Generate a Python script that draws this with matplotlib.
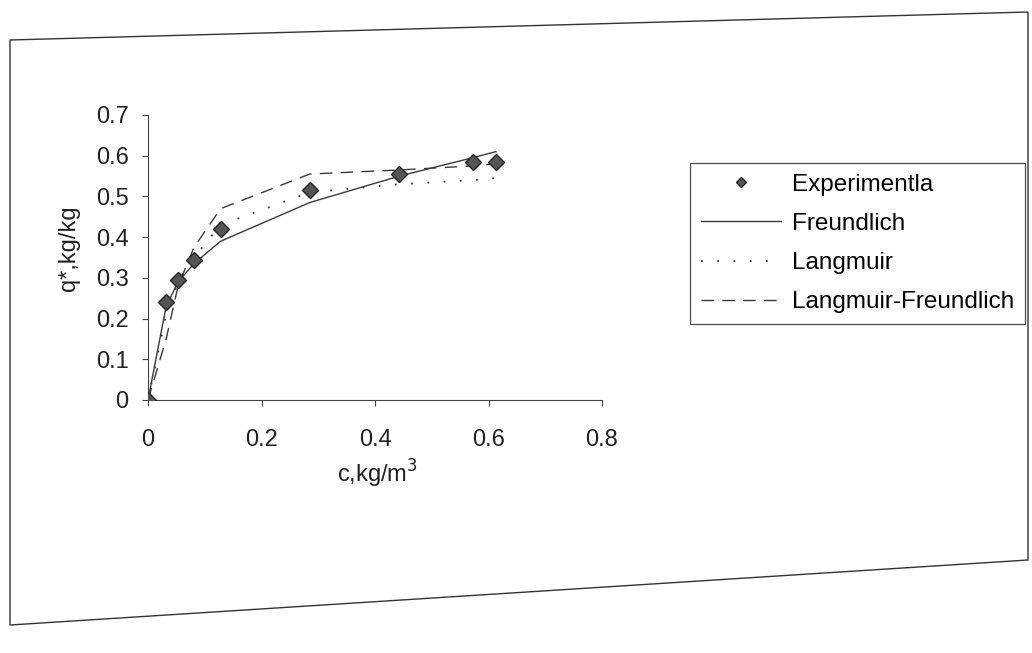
import matplotlib
matplotlib.use('Agg')
import matplotlib.pyplot as plt
from matplotlib.patches import Polygon
from matplotlib.ticker import FuncFormatter

plt.rcParams['font.family'] = ['Liberation Sans', 'DejaVu Sans']

# equilibrium concentration c (kg/m3) and loading q* (kg/kg)
c_exp = [0, 0.032, 0.053, 0.081, 0.128, 0.285, 0.443, 0.572, 0.613]
q_exp = [0, 0.24, 0.295, 0.345, 0.42, 0.515, 0.555, 0.585, 0.585]
q_freundlich = [0, 0.23, 0.29, 0.335, 0.39, 0.485, 0.55, 0.595, 0.61]
q_langmuir = [0, 0.21, 0.29, 0.35, 0.43, 0.51, 0.53, 0.54, 0.545]
q_lang_freund = [0, 0.15, 0.28, 0.375, 0.47, 0.555, 0.565, 0.575, 0.58]

W, H = 1032, 653
fig = plt.figure(figsize=(W / 100, H / 100), dpi=100)
fig.patch.set_facecolor('white')

# axes placed in pixels: x 148..602, y 400..115
ax = fig.add_axes([148 / W, 1 - 400 / H, 454 / W, 285 / H])
ax.set_facecolor('none')

line_col = '#3a3a3a'
ax.plot(c_exp, q_freundlich, color=line_col, lw=1.0, label='Freundlich')
ax.plot(c_exp, q_langmuir, color=line_col, lw=1.3, ls=(0, (1, 8)), label='Langmuir')
ax.plot(c_exp, q_lang_freund, color=line_col, lw=1.0, ls=(0, (9, 6)),
        label='Langmuir-Freundlich')
ax.plot(c_exp, q_exp, ls='none', marker='D', ms=8, mfc='#555555', mec='#222222',
        mew=1.0, label='Experimentla', zorder=5)

ax.set_xlim(0, 0.8)
ax.set_ylim(0, 0.7)
ax.set_xticks([0, 0.2, 0.4, 0.6, 0.8])
ax.set_yticks([0, 0.1, 0.2, 0.3, 0.4, 0.5, 0.6, 0.7])
fmt = FuncFormatter(lambda v, p: f'{v:g}')
ax.xaxis.set_major_formatter(fmt)
ax.yaxis.set_major_formatter(fmt)

for s in ['top', 'right']:
    ax.spines[s].set_visible(False)
for s in ['left', 'bottom']:
    ax.spines[s].set_color('#444444')
    ax.spines[s].set_linewidth(0.8)

ax.tick_params(axis='x', direction='out', length=4, width=0.8, color='#444444',
               labelsize=17, pad=17, labelcolor='#222222')
ax.tick_params(axis='y', direction='out', length=4, width=0.8, color='#444444',
               labelsize=17, pad=10, labelcolor='#222222')

ax.set_xlabel('c,kg/m$^3$', fontsize=17, color='#222222')
ax.xaxis.set_label_coords((377 - 148) / 454, (400 - 458) / 285)
ax.set_ylabel('q*,kg/kg', fontsize=17, color='#222222')
ax.yaxis.set_label_coords((80 - 148) / 454, (400 - 248) / 285)

handles, labels = ax.get_legend_handles_labels()
order = [3, 0, 1, 2]
leg = fig.legend([handles[i] for i in order], [labels[i] for i in order],
                 loc='upper left', bbox_to_anchor=(690 / W, 1 - 163 / H),
                 borderaxespad=0, fontsize=17.5, frameon=True, fancybox=False,
                 handlelength=3.3, handletextpad=0.45, labelspacing=0.7,
                 borderpad=0.45, markerscale=0.7)
leg.get_frame().set_edgecolor('#222222')
leg.get_frame().set_linewidth(0.9)

# outer border of the scanned chart area
corners = [(10, 40), (1028, 12), (1028, 560), (10, 625)]
frame = Polygon([(x / W, 1 - y / H) for x, y in corners], closed=True,
                fill=False, edgecolor='#333333', lw=1.0,
                transform=fig.transFigure)
fig.add_artist(frame)

fig.savefig('out.png', dpi=100, facecolor='white')
